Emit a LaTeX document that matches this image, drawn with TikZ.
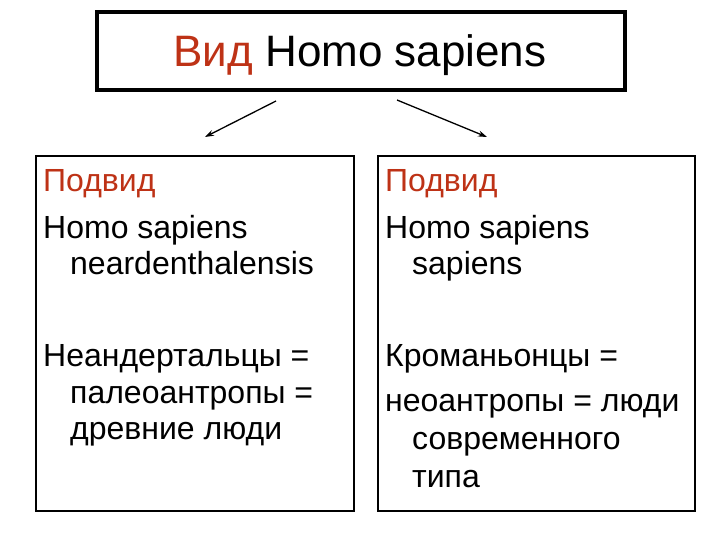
\documentclass[tikz,border=0pt]{standalone}
\usepackage{fontspec}
\setmainfont{Liberation Sans}
\usetikzlibrary{arrows.meta}
\definecolor{vidred}{RGB}{190,50,22}
\tikzset{
  titlebox/.style={draw=black, line width=4pt},
  subbox/.style={draw=black, line width=1.6pt},
  txt/.style={anchor=base west, inner sep=0pt, font=\fontsize{32}{38}\selectfont},
  conn/.style={line width=1.3pt, -{Stealth[length=9pt,width=6pt]}}
}
\begin{document}
\begin{tikzpicture}[x=1pt,y=-1pt]
\useasboundingbox (0,0) rectangle (720,540);
\fill[white] (0,0) rectangle (720,540);
% title box
\draw[titlebox] (97,12) rectangle (625,90);
\node[anchor=base, inner sep=0pt, font=\fontsize{44}{50}\selectfont] (title) at (360,67) {\textcolor{vidred}{Вид} Homo sapiens};
% sub boxes
\draw[subbox] (36,156) rectangle (354,511);
\draw[subbox] (378,156) rectangle (695,511);
% left texts
\node[txt, text=vidred] (l1) at (43,192) {Подвид};
\node[txt] (l2) at (43,238) {Homo sapiens};
\node[txt] (l3) at (70,274) {neardenthalensis};
\node[txt] (l4) at (43,366) {Неандертальцы =};
\node[txt] (l5) at (70,403) {палеоантропы =};
\node[txt] (l6) at (70,439) {древние люди};
% right texts
\node[txt, text=vidred] (r1) at (385,192) {Подвид};
\node[txt] (r2) at (385,238) {Homo sapiens};
\node[txt] (r3) at (412,274) {sapiens};
\node[txt] (r4) at (385,366) {Кроманьонцы =};
\node[txt] (r5) at (385,411) {неоантропы = люди};
\node[txt] (r6) at (412,449) {современного};
\node[txt] (r7) at (412,487) {типа};
% arrows
\coordinate (la) at (276,101);
\coordinate (lb) at (205,137);
\coordinate (ra) at (397,100);
\coordinate (rb) at (487,137);
\draw[conn] (la) -- (lb);
\draw[conn] (ra) -- (rb);
\end{tikzpicture}
\end{document}
